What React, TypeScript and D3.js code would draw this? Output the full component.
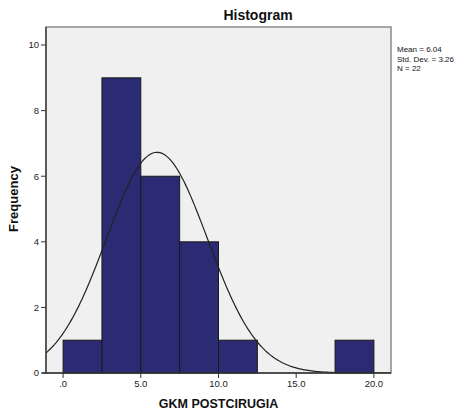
import React from 'react';
import * as d3 from 'd3';

// histogram bins (lower edge, count), bin width 2.5
const binStarts = [0, 2.5, 5, 7.5, 10, 12.5, 15, 17.5];
const binCounts = [1, 9, 6, 4, 1, 0, 0, 1];
const binWidth = 2.5;

const xTicks = [0, 5, 10, 15, 20];
const xTickLabels = ['.0', '5.0', '10.0', '15.0', '20.0'];
const yTicks = [0, 2, 4, 6, 8, 10];

const mean = 6.04;
const stdDev = 3.26;
const n = 22;
const statLines = ['Mean = 6.04', 'Std. Dev. = 3.26', 'N = 22'];

const font = '"Liberation Sans", Arial, sans-serif';

const App = () => {
  const width = 470;
  const height = 410;
  const left = 46;
  const right = 391;
  const top = 27;
  const bottom = 373;

  const x = d3.scaleLinear().domain([-1.1, 21.1]).range([left, right]);
  const y = d3.scaleLinear().domain([0, 10.55]).range([bottom, top]);

  // normal curve scaled to the histogram (N * bin width * density)
  const [x0, x1] = x.domain();
  const curvePts = d3.range(0, 201).map(i => {
    const v = x0 + ((x1 - x0) * i) / 200;
    const z = (v - mean) / stdDev;
    const dens = Math.exp(-0.5 * z * z) / (stdDev * Math.sqrt(2 * Math.PI));
    return [v, dens * n * binWidth] as [number, number];
  });
  const line = d3
    .line<[number, number]>()
    .x(d => x(d[0]))
    .y(d => y(d[1]));

  return (
    <svg
      width={width}
      height={height}
      style={{ position: 'absolute', left: 0, top: 0, background: '#fff' }}
    >
      <rect
        x={left}
        y={top}
        width={right - left}
        height={bottom - top}
        fill="#f0f0f0"
        stroke="#8a8a8a"
        strokeWidth={1.5}
      />
      <g>
        {binStarts.map((s, i) =>
          binCounts[i] > 0 ? (
            <rect
              key={i}
              x={x(s)}
              y={y(binCounts[i])}
              width={x(s + binWidth) - x(s)}
              height={y(0) - y(binCounts[i])}
              fill="#2a2b72"
              stroke="#1a1a1a"
              strokeWidth={1}
            />
          ) : null
        )}
      </g>
      <path
        d={line(curvePts) as string}
        fill="none"
        stroke="#222"
        strokeWidth={1.2}
        clipPath="url(#plotClip)"
      />
      <clipPath id="plotClip">
        <rect x={left} y={top} width={right - left} height={bottom - top} />
      </clipPath>

      {/* axes */}
      <line x1={left} x2={left} y1={top} y2={bottom} stroke="#333" strokeWidth={1.3} />
      <line x1={left - 4} x2={right} y1={bottom} y2={bottom} stroke="#333" strokeWidth={1.3} />

      {yTicks.map(t => (
        <g key={t}>
          <line x1={left - 5} x2={left} y1={y(t)} y2={y(t)} stroke="#333" />
          <text
            x={left - 7}
            y={y(t)}
            dy="0.35em"
            textAnchor="end"
            fontFamily={font}
            fontSize={9.5}
            fill="#222"
          >
            {t}
          </text>
        </g>
      ))}
      {xTicks.map((t, i) => (
        <g key={t}>
          <line x1={x(t)} x2={x(t)} y1={bottom} y2={bottom + 5} stroke="#333" />
          <text
            x={x(t)}
            y={bottom + 14}
            textAnchor="middle"
            fontFamily={font}
            fontSize={9.5}
            fill="#222"
          >
            {xTickLabels[i]}
          </text>
        </g>
      ))}

      <text
        x={258}
        y={20}
        textAnchor="middle"
        fontFamily={font}
        fontWeight="bold"
        fontSize={14}
        fill="#111"
      >
        Histogram
      </text>
      <text
        x={(left + right) / 2}
        y={408}
        textAnchor="middle"
        fontFamily={font}
        fontWeight="bold"
        fontSize={12.5}
        fill="#111"
      >
        GKM POSTCIRUGIA
      </text>
      <text
        transform={`translate(18,199) rotate(-90)`}
        textAnchor="middle"
        fontFamily={font}
        fontWeight="bold"
        fontSize={13}
        fill="#111"
      >
        Frequency
      </text>
      {statLines.map((s, i) => (
        <text
          key={s}
          x={397}
          y={52 + i * 9.5}
          fontFamily={font}
          fontSize={8}
          fill="#111"
        >
          {s}
        </text>
      ))}
    </svg>
  );
};

export default App;
